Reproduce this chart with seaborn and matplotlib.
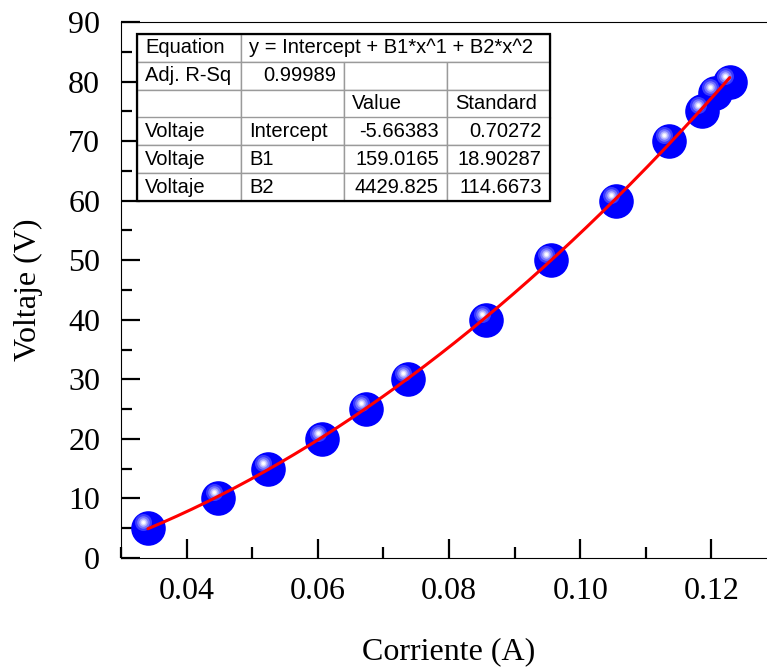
import numpy as np
import pandas as pd
import matplotlib
matplotlib.use("Agg")
import matplotlib.pyplot as plt
import seaborn as sns
from matplotlib.transforms import ScaledTranslation
from matplotlib.ticker import MultipleLocator, FormatStrFormatter
from matplotlib.patches import Rectangle

# ---- data ----
corriente = [0.0341, 0.0448, 0.0524, 0.0607, 0.0673, 0.0737, 0.0857,
             0.0955, 0.1054, 0.1135, 0.1186, 0.1205, 0.1228]
voltaje = [5, 10, 15, 20, 25, 30, 40, 50, 60, 70, 75, 78, 80]

fit_intercept = -5.66383
fit_b1 = 159.0165
fit_b2 = 4429.825

equation_text = "y = Intercept + B1*x^1 + B2*x^2"
table_rows = [
    ["Equation", "", "", ""],
    ["Adj. R-Sq", "0.99989", "", ""],
    ["", "", "Value", "Standard"],
    ["Voltaje", "Intercept", "-5.66383", "0.70272"],
    ["Voltaje", "B1", "159.0165", "18.90287"],
    ["Voltaje", "B2", "4429.825", "114.6673"],
]

# ---- style ----
sns.set_style("ticks", rc={
    "xtick.direction": "in", "ytick.direction": "in",
    "axes.edgecolor": "black", "axes.linewidth": 1.6,
    "axes.labelcolor": "black", "text.color": "black",
    "xtick.color": "black", "ytick.color": "black",
})
plt.rcParams["font.family"] = ["Liberation Serif", "DejaVu Serif"]

W, H = 767, 670
fig = plt.figure(figsize=(W / 100, H / 100), dpi=100)
ax = fig.add_axes([121 / W, 112 / H, 656 / W, 536 / H])

df = pd.DataFrame({"Corriente": corriente, "Voltaje": voltaje})

# base spheres
sns.scatterplot(data=df, x="Corriente", y="Voltaje", ax=ax, s=620,
                color="#0000ff", linewidth=0, zorder=3, legend=False)

# highlight layers (shifted up-left)
shift = ScaledTranslation(-4.5 / 100, 6 / 100, fig.dpi_scale_trans)
for d, col in [(17, "#3a3aff"), (12.5, "#7474ff"), (8.5, "#b0b0ff"),
               (5.5, "#e0e0ff"), (3, "#ffffff")]:
    sns.scatterplot(data=df, x="Corriente", y="Voltaje", ax=ax,
                    s=(d * 0.72) ** 2, color=col, linewidth=0, zorder=4,
                    legend=False)
    coll = ax.collections[-1]
    coll.set_offset_transform(ax.transData + shift)

# fitted curve from the table coefficients
xf = np.linspace(min(corriente), max(corriente), 200)
fit_df = pd.DataFrame({"x": xf, "y": fit_intercept + fit_b1 * xf + fit_b2 * xf ** 2})
sns.lineplot(data=fit_df, x="x", y="y", ax=ax, color="#ff0000", lw=2.2,
             zorder=5, legend=False)

ax.set_xlim(0.03, 0.13)
ax.set_ylim(0, 90)
ax.xaxis.set_major_locator(MultipleLocator(0.02))
ax.xaxis.set_minor_locator(MultipleLocator(0.01))
ax.xaxis.set_major_formatter(FormatStrFormatter("%.2f"))
ax.yaxis.set_major_locator(MultipleLocator(10))
ax.yaxis.set_minor_locator(MultipleLocator(5))
ax.tick_params(which="major", length=13.5, width=1.6, labelsize=23, pad=14,
               colors="black")
ax.tick_params(which="minor", length=8, width=1.6)
ax.tick_params(axis="y", pad=15)
ax.spines["right"].set_visible(False)
ax.set_xlabel("Corriente (A)", fontsize=23, labelpad=22)
ax.set_ylabel("Voltaje (V)", fontsize=23, labelpad=18)

# ---- fit table ----
tb_x0, tb_y0 = (137 - 121) / 656, (558 - 201) / 536
tb_w, tb_h = (550 - 137) / 656, (201 - 34) / 536
col_w = [104 / 413, 103 / 413, 103 / 413, 103 / 413]
tbl = ax.table(cellText=table_rows, colWidths=col_w, cellLoc="left",
               bbox=[tb_x0, tb_y0, tb_w, tb_h], zorder=10)
tbl.auto_set_font_size(False)
tbl.set_fontsize(14.5)
sans = ["Liberation Sans", "DejaVu Sans"]
for (r, c), cell in tbl.get_celld().items():
    cell.set_edgecolor("#9a9a9a")
    cell.set_linewidth(1.0)
    cell.set_facecolor("white")
    cell.PAD = 0.08
    cell.get_text().set_fontfamily(sans)
    cell.get_text().set_color("black")
    if r >= 3 and c >= 2:
        cell.get_text().set_ha("right")
    if r == 1 and c == 1:
        cell.get_text().set_ha("right")
tbl[0, 1].visible_edges = "BTL"
tbl[0, 2].visible_edges = "BT"
tbl[0, 3].visible_edges = "BTR"
ax.text(tb_x0 + tb_w * (col_w[0] + 0.02), tb_y0 + tb_h * (11 / 12),
        equation_text, transform=ax.transAxes, fontsize=14.5, family=sans,
        ha="left", va="center", zorder=12, color="black")
ax.add_patch(Rectangle((tb_x0, tb_y0), tb_w, tb_h, transform=ax.transAxes,
                       fill=False, edgecolor="black", lw=1.6, zorder=11,
                       clip_on=False))

fig.savefig("out.png", dpi=100)
